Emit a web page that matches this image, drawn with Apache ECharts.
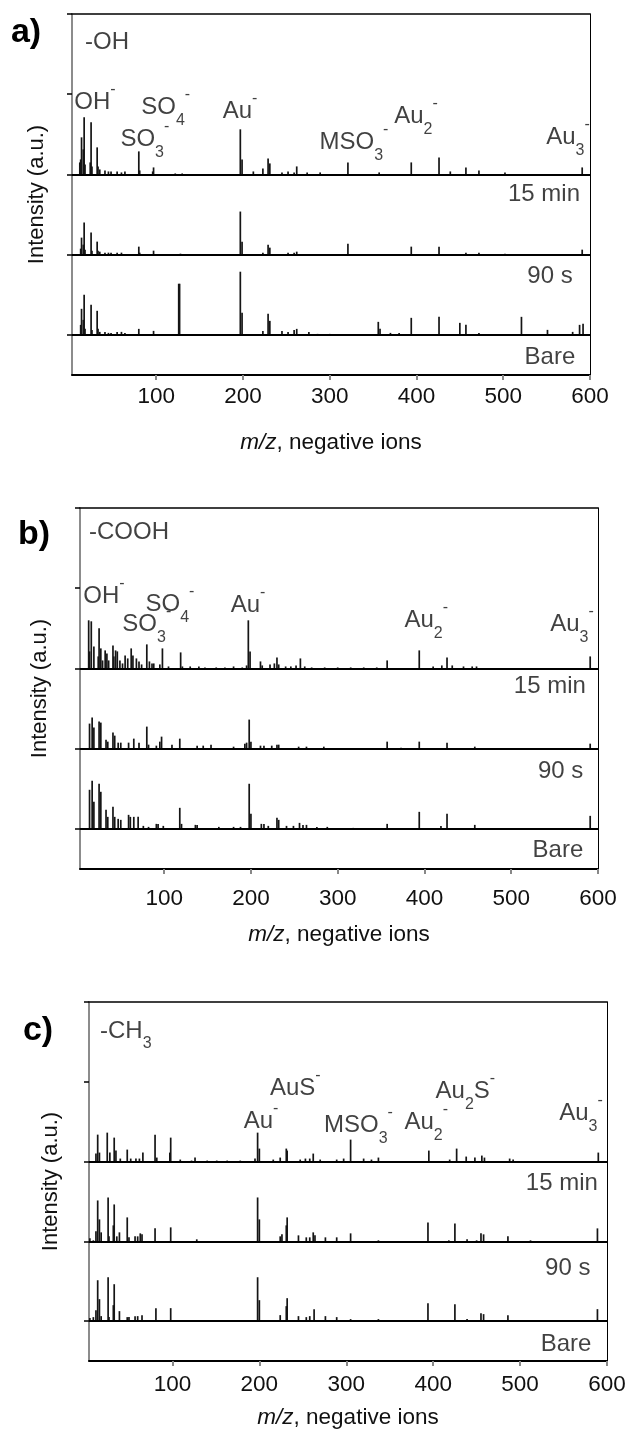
<!DOCTYPE html>
<html><head><meta charset="utf-8">
<script src="https://cdn.jsdelivr.net/npm/echarts@6/dist/echarts.min.js"></script>
<style>html,body{margin:0;padding:0;background:#fff}#c{width:629px;height:1443px}</style>
</head><body><div id="c"></div>
<script>
// ---------- DATA: peaks as [m/z, intensity (a.u.)] ----------
const xTickValues = [100, 200, 300, 400, 500, 600];
const yTickValues = [40, 120, 200, 280, 360];

// a) -OH
const OH_SAM = [[12,12],[13,15],[14,37],[16,25],[17,57],[18,10],[24,12],[25,52],[26,8],[32,27],[33,8],[35,5],[41,4],[45,3],[48,3],[55,3],[60,2],[64,3],[80,23],[81,4],[96,3],[97,7],[122,1],[130,1],[197,45],[199,15],[212,3],[223,6],[229,16],[231,11],[245,2],[252,3],[259,2],[262,8],[274,2],[289,2],[321,12],[357,2],[394,12],[426,17],[439,3],[457,7],[472,4],[502,2],[591,7]];
const OH_15 = [[13,6],[14,17],[16,10],[17,32],[18,5],[25,22],[26,4],[32,13],[33,4],[35,3],[41,2],[45,2],[48,2],[55,2],[60,2],[80,8],[81,2],[97,4],[128,1],[197,43],[199,13],[223,2],[229,10],[231,7],[252,2],[259,2],[262,3],[321,11],[394,8],[426,8],[457,2],[472,2],[502,1],[591,5]];
const OH_90 = [[13,10],[14,26],[16,15],[17,40],[18,6],[25,30],[26,5],[32,24],[33,6],[35,3],[41,3],[45,2],[48,2],[55,3],[60,3],[64,2],[80,6],[97,4],[126,51],[127,51],[197,63],[199,22],[223,4],[229,21],[231,14],[245,4],[252,3],[259,5],[262,6],[276,3],[286,1],[300,1],[313,1],[328,1],[356,13],[358,6],[370,2],[380,2],[394,17],[426,18],[450,12],[457,10],[472,2],[502,1],[521,18],[551,5],[580,3],[588,10],[592,11]];
const OH_BARE = [];

// b) -COOH
const COOH_SAM = [[13,48],[14,17],[16,47],[19,22],[24,12],[25,40],[27,20],[29,8],[32,18],[34,15],[36,8],[41,23],[42,12],[44,18],[46,17],[49,8],[52,5],[55,13],[58,10],[62,20],[64,13],[68,10],[71,7],[74,4],[80,24],[83,7],[86,5],[88,5],[95,4],[98,20],[105,2],[119,16],[121,2],[130,2],[140,2],[147,1],[160,1],[170,1],[180,2],[190,1],[195,3],[197,48],[199,17],[211,7],[213,3],[222,4],[227,5],[230,11],[232,4],[240,2],[246,2],[252,3],[257,10],[262,2],[270,1],[285,1],[300,1],[315,1],[330,1],[345,1],[357,8],[394,18],[410,2],[420,3],[426,11],[432,3],[445,2],[455,2],[460,2],[591,12]];
const COOH_15 = [[14,25],[17,31],[19,21],[25,27],[27,26],[33,9],[35,7],[41,16],[43,13],[47,6],[50,6],[59,6],[65,10],[71,6],[80,22],[82,4],[91,3],[95,7],[97,12],[109,4],[118,10],[138,3],[145,3],[154,4],[180,2],[193,5],[195,6],[198,29],[200,7],[211,3],[215,3],[224,3],[230,4],[232,4],[255,2],[264,2],[284,2],[357,7],[373,1],[394,7],[426,6],[458,2],[591,5]];
const COOH_90 = [[14,39],[17,48],[19,27],[25,45],[27,37],[33,19],[35,12],[41,22],[43,12],[47,10],[50,9],[59,14],[61,12],[65,12],[70,12],[76,3],[82,2],[91,5],[93,5],[99,3],[118,21],[120,5],[136,4],[138,4],[163,2],[180,2],[188,2],[198,45],[200,15],[212,5],[215,5],[220,3],[230,11],[232,9],[241,3],[249,3],[256,6],[260,4],[264,4],[276,2],[288,2],[318,1],[357,5],[394,17],[419,3],[426,15],[458,4],[591,13]];
const COOH_BARE = [];

// c) -CH3
const CH3_SAM = [[12,8],[14,27],[16,9],[25,29],[28,9],[33,24],[35,11],[40,3],[48,12],[52,3],[58,3],[62,3],[66,9],[80,27],[82,4],[97,9],[98,24],[109,2],[122,1],[126,4],[140,1],[151,1],[163,1],[178,1],[195,3],[198,29],[200,13],[216,2],[224,4],[231,13],[232,11],[247,2],[253,3],[258,3],[262,8],[270,2],[289,2],[297,3],[305,22],[320,3],[329,2],[337,4],[395,11],[419,2],[427,13],[438,5],[448,4],[456,6],[459,4],[488,3],[492,2],[590,9]];
const CH3_15 = [[5,3],[9,1],[12,10],[14,41],[16,22],[18,9],[26,44],[27,5],[32,16],[33,37],[36,5],[39,9],[48,24],[50,4],[57,5],[60,5],[63,8],[65,7],[80,13],[98,14],[128,2],[198,44],[200,22],[224,5],[226,7],[231,16],[232,24],[245,6],[254,4],[258,4],[262,9],[264,6],[276,4],[289,4],[305,8],[337,1],[394,19],[418,1],[425,18],[439,2],[450,1],[455,8],[458,7],[486,5],[512,1],[589,13]];
const CH3_90 = [[5,3],[9,4],[12,11],[14,41],[16,22],[18,5],[26,44],[27,4],[32,16],[33,37],[39,10],[48,4],[50,4],[57,5],[60,5],[65,6],[81,13],[98,13],[128,1],[198,44],[200,21],[224,6],[231,15],[232,23],[245,5],[254,4],[258,5],[263,12],[276,5],[289,4],[305,2],[337,2],[394,18],[425,17],[439,2],[455,8],[458,7],[486,6],[589,12]];
const CH3_BARE = [];

const conditionNames = ['15 min', '90 s', 'Bare'];
const panelTitles = ['a)', 'b)', 'c)'];
const samNames = ['{m|-OH}', '{m|-COOH}', '{m|-CH}{b|3}'];

// ---------- LAYOUT (kept separate from data) ----------
const FONT = '"Liberation Sans", Arial, sans-serif';
const TXT = '#111';
const OFFSETS = {sam: 200, m15: 120, s90: 40, bare: 0};   // stacking offsets in a.u.
const RICH = {
  m: {fontSize: 24, lineHeight: 42, verticalAlign: 'middle', fontFamily: FONT, color: TXT},
  b: {fontSize: 16, lineHeight: 16, verticalAlign: 'bottom', fontFamily: FONT, color: TXT},
  p: {fontSize: 16, lineHeight: 16, verticalAlign: 'top', fontFamily: FONT, color: TXT}
};

const panels = [
  {grid: {left: 72, top: 14, width: 518, height: 361}, xmin: 3, title: [26, 33], margin: 10, nameGap: 56, yNameGap: 24,
   spectra: [OH_SAM, OH_15, OH_90, OH_BARE],
   sam: [18, 332],
   peaks: [[29.5, 272, '{m|OH}{p|-}'], [111, 267, '{m|SO}{b|4}{p|-}'], [87, 235, '{m|SO}{b|3}{p|-}'], [196.6, 263, '{m|Au}{p|-}'],
           [328, 232, '{m|MSO}{b|3}{p|-}'], [399.5, 258, '{m|Au}{b|2}{p|-}'], [574.6, 237, '{m|Au}{b|3}{p|-}']],
   conds: [[588.5, 180], [580, 98], [583, 18]]},
  {grid: {left: 80, top: 508, width: 518, height: 361}, xmin: 3, title: [34, 535], margin: 18, nameGap: 54, yNameGap: 29,
   spectra: [COOH_SAM, COOH_15, COOH_90, COOH_BARE],
   sam: [13.4, 336],
   peaks: [[30.7, 272, '{m|OH}{p|-}'], [106.7, 264, '{m|SO}{b|4}{p|-}'], [80, 244, '{m|SO}{b|3}{p|-}'], [196.6, 263, '{m|Au}{p|-}'],
           [402, 248, '{m|Au}{b|2}{p|-}'], [570, 244, '{m|Au}{b|3}{p|-}']],
   conds: [[586, 182], [583, 97], [583, 19]]},
  {grid: {left: 89, top: 1002, width: 518, height: 359}, xmin: 4, title: [38, 1031], margin: 12, nameGap: 45, yNameGap: 27,
   spectra: [CH3_SAM, CH3_15, CH3_90, CH3_BARE],
   sam: [16.7, 331],
   peaks: [[241.4, 273, '{m|AuS}{p|-}'], [202, 240, '{m|Au}{p|-}'], [314, 236, '{m|MSO}{b|3}{p|-}'], [392, 239, '{m|Au}{b|2}{p|-}'],
           [437, 270, '{m|Au}{b|2}{m|S}{p|-}'], [570, 248, '{m|Au}{b|3}{p|-}']],
   conds: [[589.5, 178], [581, 93], [582, 17]]}
];

const grids = [], xAxes = [], yAxes = [], series = [], graphics = [];
const offsetList = [OFFSETS.sam, OFFSETS.m15, OFFSETS.s90, OFFSETS.bare];

function peakRenderer(offset) {
  return function (params, api) {
    const x = api.value(0), h = api.value(1);
    const p0 = api.coord([x, offset]);
    const p1 = api.coord([x, offset + h]);
    return {type: 'line', shape: {x1: p0[0], y1: p0[1], x2: p1[0], y2: p1[1]},
            style: {stroke: '#151515', lineWidth: 1.7}};
  };
}

panels.forEach((p, i) => {
  grids.push(Object.assign({containLabel: false}, p.grid));
  xAxes.push({
    gridIndex: i, type: 'value', min: p.xmin, max: 600, position: 'bottom',
    axisLine: {show: true, onZero: false, lineStyle: {color: '#000', width: 2}},
    axisTick: {show: true, customValues: xTickValues, length: 5, lineStyle: {color: '#888', width: 2}},
    axisLabel: {show: true, customValues: xTickValues, margin: p.margin, fontSize: 22.5, color: TXT, fontFamily: FONT},
    splitLine: {show: false},
    name: '{i|m/z}, negative ions', nameLocation: 'middle', nameGap: p.nameGap,
    nameTextStyle: {fontSize: 22.5, color: TXT, fontFamily: FONT,
      rich: {i: {fontStyle: 'italic', fontSize: 22.5, color: TXT, fontFamily: FONT}}}
  });
  xAxes.push({
    gridIndex: i, type: 'value', min: p.xmin, max: 600, position: 'top',
    axisLine: {show: true, onZero: false, lineStyle: {color: '#000', width: 1.5}},
    axisTick: {show: false}, axisLabel: {show: false}, splitLine: {show: false}
  });
  yAxes.push({
    gridIndex: i, type: 'value', min: 0, max: 360, position: 'left',
    axisLine: {show: true, onZero: false, lineStyle: {color: '#666', width: 1.5}},
    axisTick: {show: true, customValues: yTickValues, length: 5, lineStyle: {color: '#000', width: 1.5}},
    axisLabel: {show: false}, splitLine: {show: false},
    name: 'Intensity (a.u.)', nameLocation: 'middle', nameRotate: 90, nameGap: p.yNameGap,
    nameTextStyle: {fontSize: 22, color: TXT, fontFamily: FONT}
  });
  yAxes.push({
    gridIndex: i, type: 'value', min: 0, max: 360, position: 'right',
    axisLine: {show: true, onZero: false, lineStyle: {color: '#000', width: 1}},
    axisTick: {show: false}, axisLabel: {show: false}, splitLine: {show: false}
  });

  p.spectra.forEach((data, k) => {
    if (!data.length) return;
    series.push({
      type: 'custom', xAxisIndex: 2 * i, yAxisIndex: 2 * i, silent: true, animation: false,
      encode: {x: 0, y: 1}, data: data, renderItem: peakRenderer(offsetList[k]), clip: true
    });
  });

  const labelData = [];
  labelData.push({value: p.sam, label: {position: 'right', distance: 0, formatter: samNames[i]}});
  p.peaks.forEach(pk => labelData.push({value: [pk[0], pk[1]], label: {position: 'inside', formatter: pk[2]}}));
  p.conds.forEach((c, k) => labelData.push({value: c, label: {position: 'left', distance: 0, formatter: '{m|' + conditionNames[k] + '}'}}));

  series.push({
    type: 'scatter', xAxisIndex: 2 * i, yAxisIndex: 2 * i, silent: true, animation: false,
    symbolSize: 0, itemStyle: {color: 'transparent'},
    label: {show: true, color: TXT, fontFamily: FONT, fontSize: 24, rich: RICH},
    data: labelData,
    markLine: {
      silent: true, animation: false, symbol: ['none', 'none'], label: {show: false},
      lineStyle: {color: '#000', width: 2, type: 'solid'},
      data: [{yAxis: OFFSETS.s90}, {yAxis: OFFSETS.m15}, {yAxis: OFFSETS.sam}]
    }
  });

  graphics.push({type: 'text', x: p.title[0], y: p.title[1], silent: true,
    style: {text: panelTitles[i], fontSize: 34, fontWeight: 'bold', fontFamily: FONT, fill: '#000',
            align: 'center', verticalAlign: 'middle'}});
});

const chart = echarts.init(document.getElementById('c'), null, {renderer: 'canvas'});
chart.setOption({
  animation: false,
  backgroundColor: '#fff',
  grid: grids, xAxis: xAxes, yAxis: yAxes, series: series, graphic: graphics
});
</script>
</body></html>
